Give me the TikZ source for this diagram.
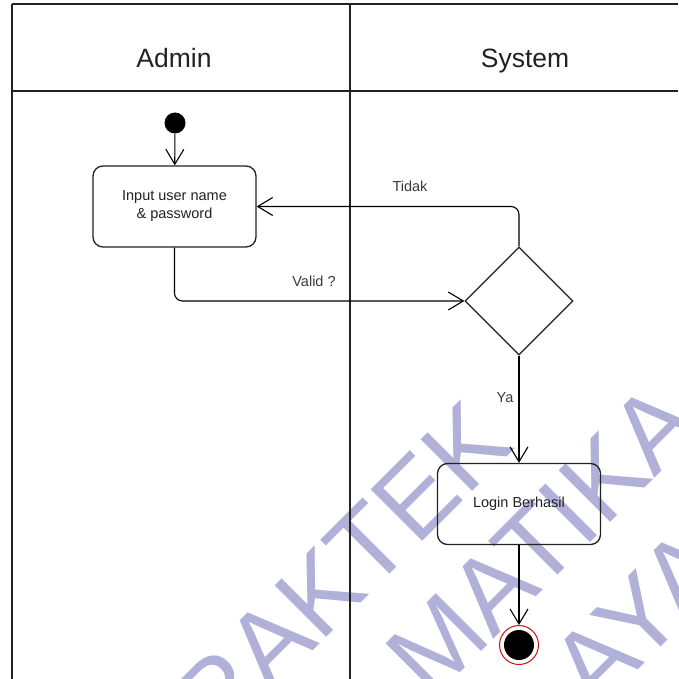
\documentclass[tikz,border=0pt]{standalone}
\usepackage{fontspec}
\setmainfont{Liberation Sans}
\usetikzlibrary{arrows.meta,shapes.geometric}
\definecolor{ink}{HTML}{222222}
\definecolor{labelink}{HTML}{3A3A3A}
\definecolor{wmark}{RGB}{176,176,216}
\definecolor{finred}{HTML}{D01010}

\begin{document}
\begin{tikzpicture}[x=1pt,y=-1pt,
  lane/.style={draw=ink, line width=2pt},
  act/.style={draw=ink, line width=1.3pt, rounded corners=10pt,
    minimum width=163pt, minimum height=81pt, align=center,
    font=\fontsize{14.5}{18}\selectfont, text=ink, inner sep=0pt},
  decision/.style={draw=ink, line width=1.3pt, shape=diamond,
    minimum width=108pt, minimum height=108pt, inner sep=0pt},
  flow/.style={draw=black, line width=1.1pt, rounded corners=8pt,
    -{Straight Barb[length=15pt,width=18pt,line width=1.1pt]}},
  lbl/.style={font=\fontsize{14.5}{17}\selectfont, text=labelink, inner sep=0pt},
  hdr/.style={font=\fontsize{26.5}{30}\selectfont, text=ink, inner sep=0pt, anchor=base},
  wm/.style={font=\fontsize{106}{120}\selectfont, text=wmark, rotate=45,
    anchor=base west, inner sep=0pt},
]
\useasboundingbox (0,0) rectangle (678,679);
\fill[white] (0,0) rectangle (678,679);

% background watermark lettering
\begin{scope}
  \clip (0,0) rectangle (678,679);
  \node[wm] (wmA) at (216,748) {RAKTEK};
  \node[wm] (wmB) at (431,702) {MATIKA};
  \node[wm] (wmC) at (595,713) {AYA};
\end{scope}

% swimlane frame
\draw[lane] (12,4) -- (678,4);
\draw[lane] (12,4) -- (12,679);
\draw[lane] (12,91) -- (678,91);
\draw[lane] (350,4) -- (350,679);

\node[hdr] (hAdmin) at (174,68) {Admin};
\node[hdr] (hSystem) at (525,68) {System};

% activity nodes
\node[circle, fill=black, minimum size=21pt, inner sep=0pt] (start) at (175,123) {};
\node[act] (input) at (174.5,206.5) {Input user name\\\& password};
\node[decision] (valid) at (519,301) {};
\node[act] (login) at (519,504) {Login Berhasil};
\node[circle, draw=finred, line width=1pt, minimum size=39pt, inner sep=0pt] (finish) at (519,645) {};
\fill[black] (finish.center) circle (15pt);

% control flow
\draw[flow] (start) -- (input);
\draw[flow] (input.south) |- (valid.west);
\draw[flow] (valid.north) |- (input.east);
\draw[flow] (valid.south) -- (login.north);
\draw[flow] (login.south) -- (finish.north);

\node[lbl] (lValid) at (314,281) {Valid ?};
\node[lbl] (lTidak) at (410,186) {Tidak};
\node[lbl] (lYa) at (505,398) {Ya};
\end{tikzpicture}
\end{document}
